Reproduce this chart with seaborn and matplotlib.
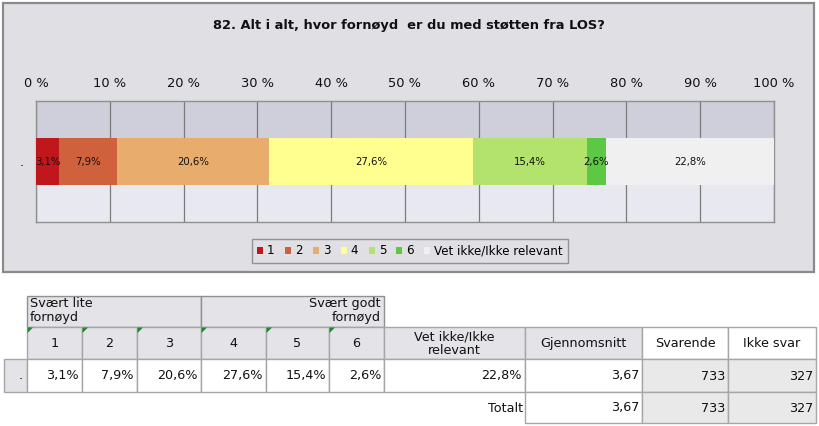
import matplotlib
matplotlib.use("Agg")
import matplotlib.pyplot as plt
import seaborn as sns
import pandas as pd
import numpy as np
from matplotlib.patches import Rectangle, Patch, Polygon

# ---------------- data ----------------
title = "82. Alt i alt, hvor fornøyd  er du med støtten fra LOS?"
categories = ["1", "2", "3", "4", "5", "6", "Vet ikke/Ikke relevant"]
values = [3.1, 7.9, 20.6, 27.6, 15.4, 2.6, 22.8]
colors = ["#c0171c", "#d0613d", "#e8ad6c", "#ffff8f", "#b3e36c", "#5dc843", "#f0f0f0"]
row_label = "."
xticks = list(range(0, 101, 10))
xtick_labels = [f"{t} %" for t in xticks]

group_headers = ["Svært lite\nfornøyd", "Svært godt\nfornøyd"]
table_headers = ["1", "2", "3", "4", "5", "6", "Vet ikke/Ikke\nrelevant",
                 "Gjennomsnitt", "Svarende", "Ikke svar"]
table_row = ["3,1%", "7,9%", "20,6%", "27,6%", "15,4%", "2,6%", "22,8%",
             "3,67", "733", "327"]
total_label = "Totalt"
total_row = ["3,67", "733", "327"]

# ---------------- figure ----------------
W, H = 819, 426
fig = plt.figure(figsize=(W / 100, H / 100), dpi=100)
fig.patch.set_facecolor("white")

bg = fig.add_axes([0, 0, 1, 1])
bg.set_xlim(0, W)
bg.set_ylim(H, 0)
bg.axis("off")
bg.set_zorder(0)

PANEL = "#e0e0e4"
bg.add_patch(Rectangle((2.5, 2.5), 811, 269.5, facecolor=PANEL,
                       edgecolor="#8a8a8a", lw=1.6))
bg.text(409, 25, title, ha="center", va="center", fontsize=9.4,
        fontweight="bold", color="#111111")

# ---------------- chart ----------------
ax = fig.add_axes([36 / W, 1 - 222 / H, 738 / W, 121 / H])
ax.set_zorder(2)
ax.set_facecolor("#e8e8f0")

df = pd.DataFrame({"cat": categories, "val": values, "color": colors})
df["cum"] = df["val"].cumsum()
df["row"] = row_label

bar_w = 0.39
ax.axhspan(-0.5, -bar_w / 2, color="#cfcfdc", zorder=0, lw=0)
ax.axhspan(bar_w / 2, 0.5, color="#e8e8f0", zorder=0, lw=0)

for i in range(len(df) - 1, -1, -1):
    sub = df.iloc[[i]]
    sns.barplot(data=sub, x="cum", y="row", orient="h", color=sub["color"].iloc[0],
                width=bar_w, saturation=1, errorbar=None, ax=ax,
                linewidth=0, zorder=3)

for _, r in df.iterrows():
    ax.text(r["cum"] - r["val"] / 2, 0, f"{r['val']:.1f}%".replace(".", ","),
            ha="center", va="center", fontsize=7.3, color="#111111", zorder=5)

ax.set_xlim(0, 100)
ax.set_ylim(0.5, -0.5)
ax.xaxis.tick_top()
ax.set_xticks(xticks)
ax.set_xticklabels(xtick_labels, fontsize=9.4, color="#111111")
ax.tick_params(axis="x", length=0, pad=8)
ax.tick_params(axis="y", length=0, pad=9, labelsize=9)
ax.set_xlabel("")
ax.set_ylabel("")
ax.grid(axis="x", color="#7a7a7a", lw=0.9, zorder=1)
ax.grid(axis="y", visible=False)
ax.set_axisbelow(True)
for s in ax.spines.values():
    s.set_color("#909090")
    s.set_linewidth(1.0)

handles = [Patch(facecolor=c, edgecolor="none") for c in colors]
leg = fig.legend(handles, categories, loc="center",
                 bbox_to_anchor=(410 / W, 1 - 251 / H), ncol=7,
                 fontsize=8.6, frameon=True, fancybox=False, shadow=False,
                 handlelength=0.5, handleheight=0.5, handletextpad=0.35,
                 columnspacing=0.85, borderpad=0.45, borderaxespad=0)
leg.get_frame().set_facecolor(PANEL)
leg.get_frame().set_edgecolor("#808080")
leg.get_frame().set_linewidth(1.0)
leg.set_zorder(5)

# ---------------- table ----------------
xs = [4, 27, 82, 137, 201, 266, 329, 384, 525, 642, 728, 816]
ys = [296, 327, 359, 392, 423]
HDR = "#e3e3e8"
CELLG = "#e9e9e9"
BORD = "#a6a6a6"
FS = 9.2
TXT = "#111111"

def cell(x0, x1, y0, y1, fc, ec=BORD):
    bg.add_patch(Rectangle((x0, y0), x1 - x0, y1 - y0, facecolor=fc,
                           edgecolor=ec, lw=1.0, zorder=1))

# group header row
cell(xs[1], xs[4], ys[0], ys[1], HDR, "#909090")
cell(xs[4], xs[7], ys[0], ys[1], HDR, "#909090")
bg.text(xs[1] + 3, ys[0] + 1, group_headers[0], ha="left", va="top",
        fontsize=FS, color=TXT, linespacing=1.05, zorder=3)
bg.text(xs[7] - 3, ys[0] + 1, group_headers[1], ha="right", va="top",
        fontsize=FS, color=TXT, linespacing=1.05, zorder=3, multialignment="right")

# header row 2
for j, h in enumerate(table_headers):
    x0, x1 = xs[j + 1], xs[j + 2]
    fc = HDR if j < 8 else "white"
    cell(x0, x1, ys[1], ys[2], fc)
    bg.text((x0 + x1) / 2, (ys[1] + ys[2]) / 2 + 0.5, h, ha="center", va="center",
            fontsize=FS, color=TXT, linespacing=1.0, zorder=3)
    if j < 6:
        bg.add_patch(Polygon([[x0 + 0.5, ys[1] + 0.5], [x0 + 6, ys[1] + 0.5],
                              [x0 + 0.5, ys[1] + 6]], closed=True,
                             facecolor="#1f8a2a", edgecolor="none", zorder=4))

# data row
cell(xs[0], xs[1], ys[2], ys[3], HDR)
bg.text(21, (ys[2] + ys[3]) / 2, row_label, ha="center", va="center",
        fontsize=FS, color=TXT, zorder=3)
for j, v in enumerate(table_row):
    x0, x1 = xs[j + 1], xs[j + 2]
    fc = CELLG if j >= 8 else "white"
    cell(x0, x1, ys[2], ys[3], fc)
    bg.text(x1 - 3, (ys[2] + ys[3]) / 2 + 0.5, v, ha="right", va="center",
            fontsize=FS, color=TXT, zorder=3)

# total row
bg.text(xs[8] - 2, (ys[3] + ys[4]) / 2 + 0.5, total_label, ha="right", va="center",
        fontsize=FS, color=TXT, zorder=3)
for j, v in enumerate(total_row):
    x0, x1 = xs[8 + j], xs[9 + j]
    fc = CELLG if j >= 1 else "white"
    cell(x0, x1, ys[3], ys[4], fc)
    bg.text(x1 - 3, (ys[3] + ys[4]) / 2 + 0.5, v, ha="right", va="center",
            fontsize=FS, color=TXT, zorder=3)

fig.savefig("out.png", dpi=100, facecolor="white")
